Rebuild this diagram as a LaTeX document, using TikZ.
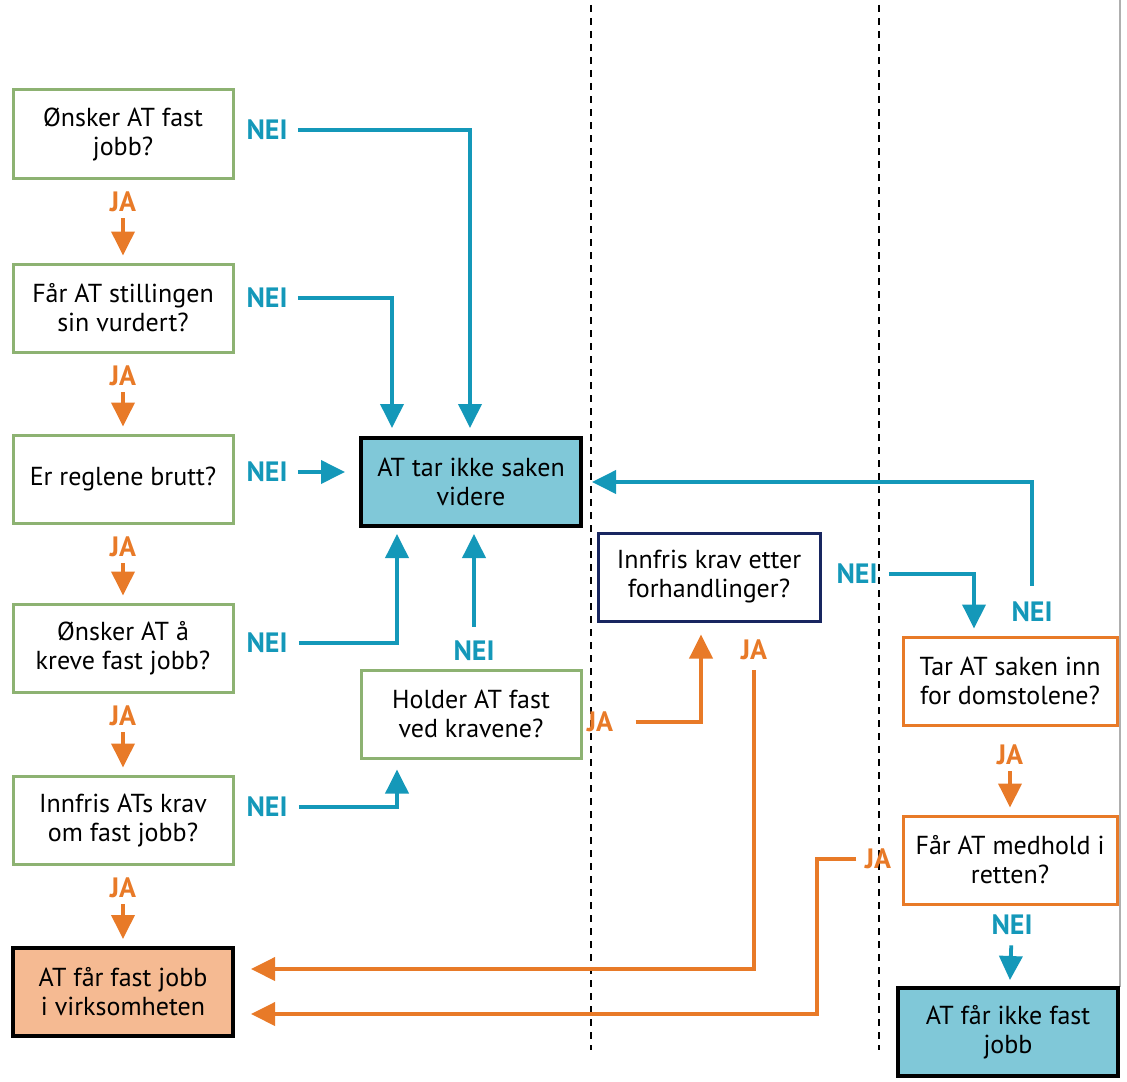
\documentclass[tikz,border=0pt]{standalone}
\usepackage{fontspec}
\setmainfont{PT Sans}
\usetikzlibrary{positioning,arrows.meta}
\definecolor{questionGreen}{RGB}{141,178,114}
\definecolor{neiBlue}{RGB}{20,152,185}
\definecolor{jaOrange}{RGB}{232,122,40}
\definecolor{stopFill}{RGB}{128,200,216}
\definecolor{hiredFill}{RGB}{245,186,146}
\definecolor{talksNavy}{RGB}{24,38,96}
\definecolor{edgeGray}{RGB}{175,175,175}
\tikzstyle{chart} = [x = 0.5pt, y = -0.5pt, font=\fontsize{13}{14.5}\selectfont]
\tikzstyle{boxStyle} = [align=center, minimum height=44pt, inner sep=2pt, line width=1.5pt]
\tikzstyle{questionBox} = [boxStyle, draw=questionGreen, minimum width=110pt]
\tikzstyle{talksBox} = [boxStyle, draw=talksNavy, minimum width=111pt]
\tikzstyle{courtBox} = [boxStyle, draw=jaOrange, minimum width=107pt]
\tikzstyle{stopBox} = [boxStyle, draw=black, fill=stopFill, line width=2pt, minimum width=110pt]
\tikzstyle{hiredBox} = [boxStyle, draw=black, fill=hiredFill, line width=2pt, minimum width=110pt]
\tikzstyle{neiLabel} = [text=neiBlue, font=\fontsize{14}{15}\selectfont\bfseries, inner sep=0pt]
\tikzstyle{jaLabel} = [text=jaOrange, font=\fontsize{14}{15}\selectfont\bfseries, inner sep=0pt]
\tikzstyle{neiArrow} = [draw=neiBlue, line width=1.9pt, -{Triangle[width=11.5pt, length=12pt]}]
\tikzstyle{jaArrow} = [draw=jaOrange, line width=1.9pt, -{Triangle[width=11.5pt, length=12pt]}]
\tikzstyle{dividerLine} = [draw=black, line width=1.1pt, dash pattern=on 3.5pt off 3pt]
\begin{document}
\begin{tikzpicture}[chart]
    \useasboundingbox (0,0) rectangle (1127,1081);
    % columns
    \draw [dividerLine] (591,5) -- (591,1050);
    \draw [dividerLine] (879,5) -- (879,1050);
    \draw [edgeGray, line width=0.6pt] (1120,0) -- (1120,987);
    % boxes
    \node [questionBox] (wish) at (123,134) {Ønsker AT fast\\jobb?};
    \node [questionBox] (review) at (123,308) {Får AT stillingen\\sin vurdert?};
    \node [questionBox] (breach) at (123,479) {Er reglene brutt?};
    \node [questionBox] (demand) at (123,648) {Ønsker AT å\\kreve fast jobb?};
    \node [questionBox] (meet) at (123,820) {Innfris ATs krav\\om fast jobb?};
    \node [hiredBox] (hired) at (123,992) {AT får fast jobb\\i virksomheten};
    \node [stopBox] (drop) at (471,482) {AT tar ikke saken\\videre};
    \node [questionBox] (insist) at (471,714) {Holder AT fast\\ved kravene?};
    \node [talksBox] (talks) at (709,577) {Innfris krav etter\\forhandlinger?};
    \node [courtBox] (court) at (1010,681) {Tar AT saken inn\\for domstolene?};
    \node [courtBox] (verdict) at (1010,860) {Får AT medhold i\\retten?};
    \node [stopBox] (lost) at (1008,1032) {AT får ikke fast\\jobb};
    % ja down the left column
    \foreach \from/\to in {wish/review, review/breach, breach/demand, demand/meet, meet/hired} {
      \node [jaLabel, below=6pt of \from] (ja-\from) {JA};
      \draw [jaArrow, shorten <=3pt, shorten >=3.5pt] (ja-\from) -- (\to);
    }
    % nei labels
    \node [neiLabel] (neiWish) at (267,130) {NEI};
    \node [neiLabel] (neiReview) at (267,298) {NEI};
    \node [neiLabel] (neiBreach) at (267,472) {NEI};
    \node [neiLabel] (neiDemand) at (267,643) {NEI};
    \node [neiLabel] (neiMeet) at (267,807) {NEI};
    \node [neiLabel] (neiInsist) at (474,651) {NEI};
    \node [neiLabel] (neiTalks) at (857,574) {NEI};
    \node [neiLabel] (neiCourt) at (1032,612) {NEI};
    \node [neiLabel] (neiVerdict) at (1012,925) {NEI};
    \node [jaLabel] (jaInsist) at (600,722) {JA};
    \node [jaLabel] (jaTalks) at (754,650) {JA};
    \node [jaLabel] (jaCourt) at (1010,755) {JA};
    \node [jaLabel] (jaVerdict) at (878,859) {JA};
    \coordinate (verdictBend) at (817,1014);
    % nei connectors
    \draw [neiArrow, shorten <=5pt, shorten >=4pt] (neiWish.east) -| ([xshift=-0.5pt]drop.north);
    \draw [neiArrow, shorten <=5pt, shorten >=4pt] (neiReview.east) -| ([xshift=-39.5pt]drop.north);
    \draw [neiArrow, shorten <=5pt, shorten >=7pt] (neiBreach.east) -- (neiBreach.east -| drop.west);
    \draw [neiArrow, shorten <=5.5pt, shorten >=3pt] (neiDemand.east) -| ([xshift=-37pt]drop.south);
    \draw [neiArrow, shorten <=7pt, shorten >=3pt] (neiInsist.north) -- (neiInsist.north |- drop.south);
    \draw [neiArrow, shorten <=5.5pt, shorten >=5pt] (neiMeet.east) -| ([xshift=-37pt]insist.south);
    \draw [neiArrow, shorten <=5.5pt, shorten >=3.5pt] (neiTalks.east) -| ([xshift=-18pt]court.north);
    \draw [neiArrow, shorten <=8pt, shorten >=4.5pt] (neiCourt.north) |- (drop.east);
    \draw [neiArrow, shorten <=5pt, shorten >=3pt] (neiVerdict) -- (lost);
    % ja connectors
    \draw [jaArrow, shorten <=11pt, shorten >=6pt] (jaInsist.east) -| ([xshift=-4pt]talks.south);
    \draw [jaArrow, shorten <=5pt, shorten >=8pt] (jaTalks.south) |- ([yshift=11.5pt]hired.east);
    \draw [jaArrow, shorten <=3pt, shorten >=3.5pt] (jaCourt) -- (verdict);
    \draw [jaArrow, shorten <=4pt, shorten >=8pt] (jaVerdict.west) -| (verdictBend) -- ([yshift=-11pt]hired.east);
\end{tikzpicture}
\end{document}
